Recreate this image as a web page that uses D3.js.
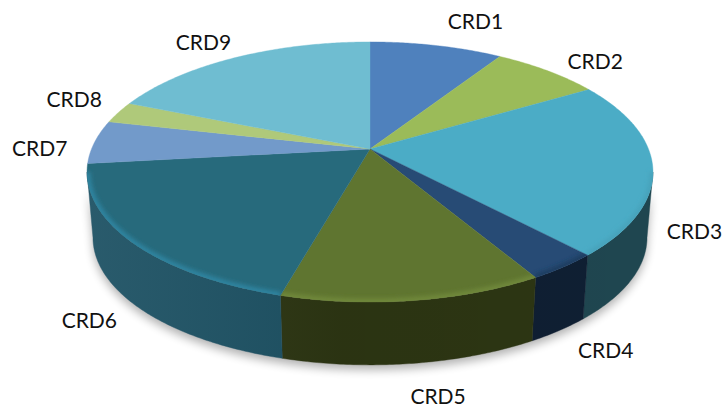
<!DOCTYPE html>
<html><head><meta charset="utf-8">
<script src="https://cdn.jsdelivr.net/npm/d3@7"></script>
<style>html,body{margin:0;background:#fff}svg{display:block}text{font-family:Lato,sans-serif;font-size:21px;font-weight:400;fill:#111}</style>
</head><body><div id="c"></div>
<script>
const categories = ["CRD1","CRD2","CRD3","CRD4","CRD5","CRD6","CRD7","CRD8","CRD9"];
const values = [9.0,7.4,21.7,3.5,12.7,18.9,5.4,2.7,18.7];
const topColors = ["#4f81bd","#9bbb59","#4bacc6","#274b75","#5f7530","#276a7c","#729aca","#afc97a","#6fbdd1"];
const sideColors = ["#2f4d71","#5d7035","#1f4650","#0f1f33","#2d3613","#1e5264","#445c79","#697849","#437180"];
const rimColors = ["#4f81bd","#9bbb59","#46a3bb","#1d3c60","#70883a","#2f84a0","#7fa6d6","#afc97a","#6fbdd1"];
const labelShiftX = [29,22,12,25,21,-19,-19,-10,-12];
const labelShiftY = [-5,4,-5,2,11,0,7,-7,1];

const W=722,H=410;
const CX=370,CY=149,R=278.5,S=126,K=0.177,DEPTH=66,SHRINK=0.979;
function proj(a,r=1,scale=1,dy=0){
  const u=r*Math.sin(a),v=-r*Math.cos(a),d=1-K*v;
  return [CX+scale*R*u/d, CY+dy+scale*S*v/d];
}
const svg=d3.select("#c").append("svg").attr("width",W).attr("height",H);
const defs=svg.append("defs");
const blur=(id,s)=>defs.append("filter").attr("id",id).attr("x","-20%").attr("y","-20%").attr("width","140%").attr("height","140%")
  .append("feGaussianBlur").attr("stdDeviation",s);
blur("b5",5);blur("b2",2);

const sheen=defs.append("linearGradient").attr("id","sheen").attr("gradientUnits","userSpaceOnUse")
  .attr("x1",CX-R).attr("x2",CX+R).attr("y1",0).attr("y2",0);
sheen.append("stop").attr("offset",0).attr("stop-color","#fff").attr("stop-opacity",0.05);
sheen.append("stop").attr("offset",0.45).attr("stop-color","#000").attr("stop-opacity",0.05);
sheen.append("stop").attr("offset",1).attr("stop-color","#000").attr("stop-opacity",0);

const arcs=d3.pie().value(d=>d).sort(null)(values);
const line=d3.line();
const samples=(a0,a1)=>{const n=Math.max(2,Math.ceil((a1-a0)/0.01));return d3.range(n+1).map(i=>a0+(a1-a0)*i/n);};
const VIS0=Math.acos(-K),VIS1=2*Math.PI-VIS0;
const wall=(a0,a1)=>{
  const s=samples(a0,a1);
  return line([...s.map(a=>proj(a)),...s.slice().reverse().map(a=>proj(a,1,SHRINK,DEPTH))])+"Z";
};
const face=d=>line([[CX,CY],...samples(d.startAngle,d.endAngle).map(a=>proj(a))])+"Z";

svg.append("path").attr("fill","#000").attr("opacity",0.3).attr("filter","url(#b5)")
  .attr("transform","translate(0,5)").attr("d",wall(VIS0,VIS1));

const sides=svg.append("g");
arcs.forEach((d,i)=>{
  const a0=Math.max(d.startAngle,VIS0),a1=Math.min(d.endAngle,VIS1);
  if(a1<=a0)return;
  sides.append("path").attr("d",wall(a0,a1)).attr("fill",sideColors[i]).attr("stroke",sideColors[i]).attr("stroke-width",0.4);
});
sides.append("path").attr("d",wall(VIS0,VIS1)).attr("fill","url(#sheen)");

const topG=svg.append("g");
arcs.forEach((d,i)=>{
  const id="clip"+i;
  defs.append("clipPath").attr("id",id).append("path").attr("d",face(d));
  topG.append("path").attr("d",face(d)).attr("fill",topColors[i]).attr("stroke",topColors[i]).attr("stroke-width",0.4);
  const a0=Math.max(d.startAngle,VIS0),a1=Math.min(d.endAngle,VIS1);
  if(a1>a0){
    topG.append("g").attr("clip-path",`url(#${id})`)
      .append("path").attr("fill","none").attr("stroke",rimColors[i]).attr("stroke-width",7).attr("filter","url(#b2)")
      .attr("d",line(samples(a0,a1).map(a=>proj(a))));
  }
});

const labels=svg.append("g");
arcs.forEach((d,i)=>{
  const m=(d.startAngle+d.endAngle)/2;
  const p=Math.cos(m)<0?proj(m,1,SHRINK,DEPTH):proj(m);
  labels.append("text")
    .attr("x",p[0]+Math.sin(m)*36+labelShiftX[i])
    .attr("y",p[1]-Math.cos(m)*21+labelShiftY[i])
    .attr("text-anchor","middle").attr("dominant-baseline","central")
    .text(categories[i]);
});
</script></body></html>
